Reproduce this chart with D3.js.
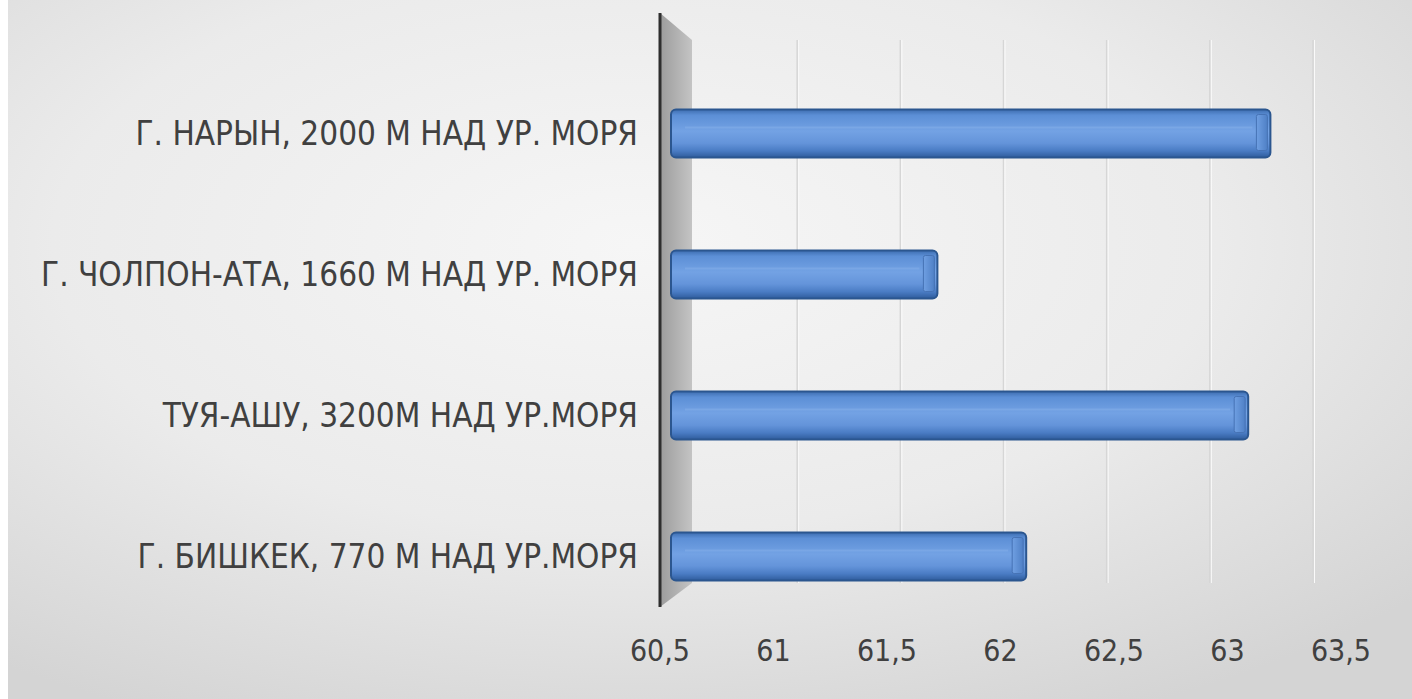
<!DOCTYPE html>
<html><head><meta charset="utf-8">
<script src="https://cdn.jsdelivr.net/npm/d3@7"></script>
<style>html,body{margin:0;padding:0;background:#fff;overflow:hidden}</style>
</head><body>
<svg id="chart" width="1412" height="699"></svg>
<script>
const categories = [
  "Г. НАРЫН, 2000 М НАД УР. МОРЯ",
  "Г. ЧОЛПОН-АТА, 1660 М НАД УР. МОРЯ",
  "ТУЯ-АШУ, 3200М НАД УР.МОРЯ",
  "Г. БИШКЕК, 770 М НАД УР.МОРЯ"
];
const values = [63.2, 61.7, 63.1, 62.1];
const tickValues = [60.5, 61, 61.5, 62, 62.5, 63, 63.5];
const tickLabels = ["60,5", "61", "61,5", "62", "62,5", "63", "63,5"];

const W = 1412, H = 699;
const svg = d3.select("#chart");
const defs = svg.append("defs");

const bg = defs.append("radialGradient").attr("id","bg")
  .attr("cx","0.45").attr("cy","0.35").attr("r","0.75");
bg.append("stop").attr("offset","0").attr("stop-color","#f6f6f6");
bg.append("stop").attr("offset","0.55").attr("stop-color","#ebebeb");
bg.append("stop").attr("offset","1").attr("stop-color","#d4d4d4");

const barG = defs.append("linearGradient").attr("id","barG")
  .attr("x1","0").attr("y1","0").attr("x2","0").attr("y2","1");
[["0","#3d6db0"],["0.12","#5c8fd6"],["0.45","#73a2e4"],["0.7","#6494da"],["0.86","#4a7cc4"],["1","#2f5c9c"]]
  .forEach(([o,c]) => barG.append("stop").attr("offset",o).attr("stop-color",c));

const capG = defs.append("linearGradient").attr("id","capG")
  .attr("x1","0").attr("y1","0").attr("x2","1").attr("y2","0");
capG.append("stop").attr("offset","0").attr("stop-color","#6f9fe2");
capG.append("stop").attr("offset","1").attr("stop-color","#4f80c6");

const wallG = defs.append("linearGradient").attr("id","wallG")
  .attr("x1","0").attr("y1","0").attr("x2","1").attr("y2","0");
wallG.append("stop").attr("offset","0").attr("stop-color","#9c9c9c");
wallG.append("stop").attr("offset","1").attr("stop-color","#c4c4c4");

svg.append("rect").attr("width",W).attr("height",H).attr("fill","url(#bg)");
svg.append("rect").attr("x",0).attr("y",0).attr("width",8).attr("height",H).attr("fill","#ffffff");

// scales: front labels, bar depth, back wall gridlines (3D perspective)
const xLabel = d3.scaleLinear().domain([60.5, 63.5]).range([660, 1341]);
const xBar   = d3.scaleLinear().domain([60.5, 63.5]).range([671, 1337]);
const xBack  = d3.scaleLinear().domain([60.5, 63.5]).range([694, 1313]);
const y = d3.scalePoint().domain(categories).range([63, 627]).padding(0.5);

svg.append("path")
  .attr("d", d3.line()([[660,13],[692,40],[692,583],[660,607]]) + "Z")
  .attr("fill","url(#wallG)");

const grid = svg.append("g");
grid.selectAll("line.g1").data(tickValues.slice(1)).join("line")
  .attr("x1", d => xBack(d)).attr("x2", d => xBack(d))
  .attr("y1", 40).attr("y2", 583)
  .attr("stroke", "#d6d6d6").attr("stroke-width", 1.5);
grid.selectAll("line.g2").data(tickValues.slice(1)).join("line")
  .attr("x1", d => xBack(d) + 1.5).attr("x2", d => xBack(d) + 1.5)
  .attr("y1", 40).attr("y2", 583)
  .attr("stroke", "#fafafa").attr("stroke-width", 1);

svg.append("line").attr("x1",660).attr("x2",660).attr("y1",13).attr("y2",607)
  .attr("stroke","#2e2e2e").attr("stroke-width",3);

const bh = 48;
const bars = svg.append("g").selectAll("g").data(categories).join("g");
bars.append("rect")
  .attr("x", xBar(60.5))
  .attr("y", d => y(d) - bh/2)
  .attr("width", (d,i) => xBar(values[i]) - xBar(60.5))
  .attr("height", bh)
  .attr("rx", 5)
  .attr("fill", "url(#barG)")
  .attr("stroke", "#2b568f").attr("stroke-width", 2);
bars.append("rect")
  .attr("x", (d,i) => xBar(values[i]) - 14)
  .attr("y", d => y(d) - bh/2 + 5)
  .attr("width", 11)
  .attr("height", bh - 12)
  .attr("rx", 2)
  .attr("fill", "url(#capG)")
  .attr("stroke", "#4673b5").attr("stroke-width", 1);
bars.append("line")
  .attr("x1", xBar(60.5) + 14)
  .attr("x2", (d,i) => xBar(values[i]) - 18)
  .attr("y1", d => y(d) - 6).attr("y2", d => y(d) - 6)
  .attr("stroke", "#86b0ea").attr("stroke-width", 2).attr("opacity", 0.5);

svg.append("g").selectAll("text").data(categories).join("text")
  .attr("x", 638)
  .attr("y", d => y(d))
  .attr("dy", "0.36em")
  .attr("text-anchor", "end")
  .attr("font-family", "'Liberation Sans Narrow','DejaVu Sans Condensed',sans-serif")
  .attr("font-size", 33)
  .attr("fill", "#404040")
  .text(d => d);

svg.append("g").selectAll("text").data(tickValues).join("text")
  .attr("x", d => xLabel(d))
  .attr("y", 661)
  .attr("text-anchor", "middle")
  .attr("font-family", "'Liberation Sans Narrow','DejaVu Sans Condensed',sans-serif")
  .attr("font-size", 30)
  .attr("fill", "#404040")
  .text((d,i) => tickLabels[i]);
</script>
</body></html>
